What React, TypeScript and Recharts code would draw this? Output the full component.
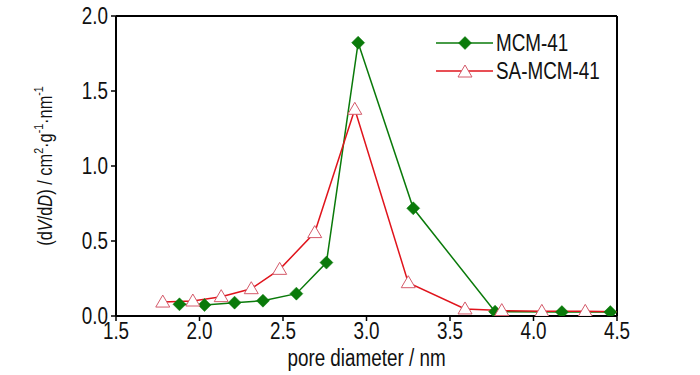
import React from "react";
import { LineChart, Line, XAxis, YAxis, ReferenceLine } from "recharts";

const mcmDiameter = [1.88, 2.03, 2.21, 2.38, 2.58, 2.76, 2.95, 3.28, 3.77, 4.17, 4.46];
const mcmVolume = [0.078, 0.073, 0.089, 0.102, 0.149, 0.356, 1.822, 0.718, 0.029, 0.026, 0.026];

const saDiameter = [1.78, 1.96, 2.13, 2.31, 2.48, 2.69, 2.93, 3.25, 3.59, 3.81, 4.05, 4.31, 4.57];
const saVolume = [0.093, 0.1, 0.129, 0.182, 0.311, 0.556, 1.378, 0.222, 0.047, 0.036, 0.031, 0.031, 0.028];

const xTicks = [1.5, 2.0, 2.5, 3.0, 3.5, 4.0, 4.5];
const yTicks = [0, 0.5, 1.0, 1.5, 2.0];

const mcmData = mcmDiameter.map((d, i) => ({ d, v: mcmVolume[i] }));
const saData = saDiameter.map((d, i) => ({ d, v: saVolume[i] }));

const FONT = '"Liberation Sans", Arial, sans-serif';
const NARROW = 0.82; // fake Arial Narrow by squeezing Liberation Sans
const GREEN = "#0a7a0a";
const RED = "#e0141c";
const TRI = "#d45a6a";
const INK = "#111";

const Diamond = ({ cx, cy }: { cx?: number; cy?: number }) => {
  if (cx == null || cy == null) return null;
  const r = 6.5;
  return (
    <polygon
      points={`${cx},${cy - r} ${cx + r},${cy} ${cx},${cy + r} ${cx - r},${cy}`}
      fill={GREEN}
      stroke={GREEN}
      strokeWidth={0.5}
    />
  );
};

const Triangle = ({ cx, cy }: { cx?: number; cy?: number }) => {
  if (cx == null || cy == null) return null;
  const w = 7;
  return (
    <polygon
      points={`${cx},${cy - 7} ${cx + w},${cy + 5} ${cx - w},${cy + 5}`}
      fill="#fff"
      stroke={TRI}
      strokeWidth={1}
    />
  );
};

const XTick = ({ x, y, payload }: any) => (
  <text
    transform={`translate(${x} ${y}) scale(${NARROW} 1)`}
    textAnchor="middle"
    dy="0.72em"
    fontFamily={FONT}
    fontSize={23}
    fill={INK}
  >
    {Number(payload.value).toFixed(1)}
  </text>
);

const YTick = ({ x, y, payload }: any) => (
  <text
    transform={`translate(${x} ${y}) scale(${NARROW} 1)`}
    textAnchor="end"
    dy="0.36em"
    fontFamily={FONT}
    fontSize={23}
    fill={INK}
  >
    {Number(payload.value).toFixed(1)}
  </text>
);

const XLabel = (props: any) => {
  const vb = props.viewBox || { x: 116, y: 316, width: 501, height: 59 };
  const x = vb.x + vb.width / 2;
  const y = vb.y + 50;
  return (
    <text
      transform={`translate(${x} ${y}) scale(${NARROW} 1)`}
      textAnchor="middle"
      fontFamily={FONT}
      fontSize={23}
      fill={INK}
    >
      pore diameter / nm
    </text>
  );
};

const YLabel = (props: any) => {
  const vb = props.viewBox || { x: 0, y: 16, width: 116, height: 300 };
  const x = vb.x + 52;
  const y = vb.y + vb.height / 2;
  return (
    <text
      transform={`translate(${x} ${y}) rotate(-90) scale(${NARROW} 1)`}
      textAnchor="middle"
      fontFamily={FONT}
      fontSize={20}
      fill={INK}
    >
      <tspan>(d</tspan>
      <tspan fontStyle="italic">V</tspan>
      <tspan>/d</tspan>
      <tspan fontStyle="italic">D</tspan>
      <tspan>) / cm</tspan>
      <tspan fontSize={13} dy={-9}>2</tspan>
      <tspan dy={9}>·g</tspan>
      <tspan fontSize={13} dy={-9}>-1</tspan>
      <tspan dy={9}>·nm</tspan>
      <tspan fontSize={13} dy={-9}>-1</tspan>
    </text>
  );
};

// legend drawn as an overlay so it doesn't eat plot width
const ChartLegend = () => {
  const items = [
    { name: "MCM-41", color: GREEN, marker: "diamond" },
    { name: "SA-MCM-41", color: RED, marker: "triangle" },
  ];
  return (
    <div
      style={{
        position: "absolute",
        left: 436,
        top: 29,
        fontFamily: FONT,
        fontSize: 23,
        color: INK,
      }}
    >
      {items.map((it) => (
        <div key={it.name} style={{ display: "flex", alignItems: "center", height: 28 }}>
          <svg width={58} height={20} style={{ marginRight: 2 }}>
            <line x1={0} y1={10} x2={57} y2={10} stroke={it.color} strokeWidth={1.5} />
            {it.marker === "diamond" ? (
              <Diamond cx={29} cy={10} />
            ) : (
              <Triangle cx={29} cy={11} />
            )}
          </svg>
          <span
            style={{
              display: "inline-block",
              transform: `scaleX(${NARROW})`,
              transformOrigin: "left center",
              whiteSpace: "nowrap",
            }}
          >
            {it.name}
          </span>
        </div>
      ))}
    </div>
  );
};

export default function App() {
  return (
    <div style={{ position: "absolute", left: 0, top: 0, width: 700, height: 375, background: "#fff" }}>
      <LineChart width={700} height={375} margin={{ top: 16, right: 83, bottom: 0, left: 0 }}>
        <XAxis
          dataKey="d"
          type="number"
          domain={[1.5, 4.5]}
          ticks={xTicks}
          allowDataOverflow
          height={59}
          tickSize={5}
          tickMargin={1}
          tick={<XTick />}
          axisLine={{ stroke: "#000", strokeWidth: 2 }}
          tickLine={{ stroke: "#000", strokeWidth: 1.5 }}
          label={<XLabel />}
        />
        <YAxis
          type="number"
          domain={[0, 2]}
          ticks={yTicks}
          allowDataOverflow
          width={116}
          tickSize={5}
          tickMargin={3}
          tick={<YTick />}
          axisLine={{ stroke: "#000", strokeWidth: 2 }}
          tickLine={{ stroke: "#000", strokeWidth: 1.5 }}
          label={<YLabel />}
        />
        <ReferenceLine y={2} stroke="#000" strokeWidth={2} />
        <ReferenceLine x={4.5} stroke="#000" strokeWidth={2} />
        <Line
          data={mcmData}
          dataKey="v"
          name="MCM-41"
          stroke={GREEN}
          strokeWidth={1.5}
          dot={<Diamond />}
          activeDot={false}
          isAnimationActive={false}
        />
        <Line
          data={saData}
          dataKey="v"
          name="SA-MCM-41"
          stroke={RED}
          strokeWidth={1.5}
          dot={<Triangle />}
          activeDot={false}
          isAnimationActive={false}
        />
      </LineChart>
      <ChartLegend />
    </div>
  );
}
